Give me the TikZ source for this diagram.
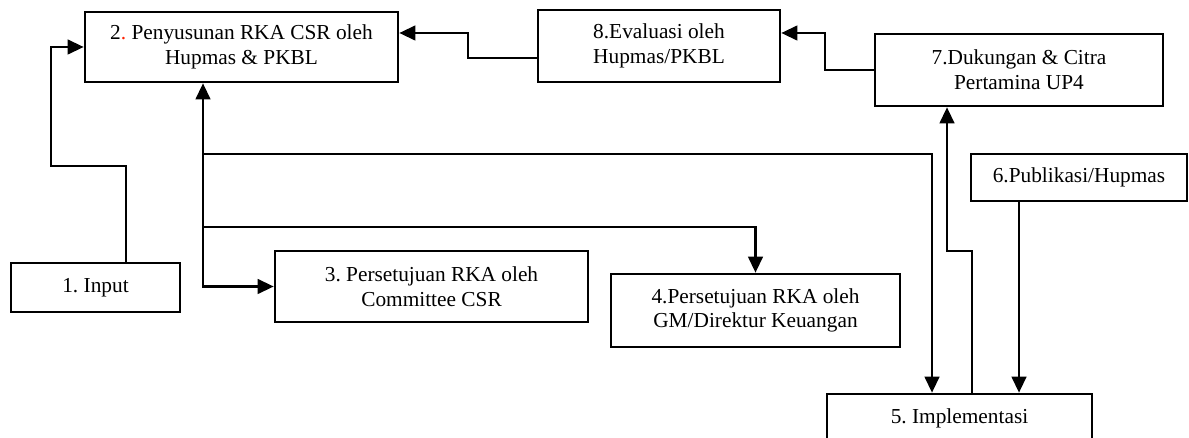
\documentclass[tikz,border=0pt]{standalone}
\usepackage{fontspec}
\setmainfont{Liberation Serif}
\usetikzlibrary{arrows.meta, calc}
\colorlet{dotRed}{red!75!orange}

\begin{document}
\begin{tikzpicture}[
  x=0.75pt, y=-0.75pt,
  font=\fontsize{16}{18.5}\selectfont\frenchspacing,
  >={Triangle[length=12pt, width=11pt]},
  flow/.style={->, line width=1.7pt},
  twoway/.style={<->, line width=1.7pt},
  box/.style={draw, line width=2pt, align=center, inner sep=0pt},
]
\useasboundingbox (0,0) rectangle (1189,438);

% ── process boxes ────────────────────────────────────────────────────────────
\node[box, minimum width=126.75pt, minimum height=36.75pt] (input) at (95.5,287.5)
  {1. Input};
\node[box, minimum width=234.75pt, minimum height=52.5pt] (susun) at (241.5,47)
  {2{\color{dotRed}.} Penyusunan RKA CSR oleh\\ Hupmas \& PKBL};
\node[box, minimum width=234.75pt, minimum height=53.25pt] (setuju) at (431.5,286.5)
  {3. Persetujuan RKA oleh\\ Committee CSR};
\node[box, minimum width=216.75pt, minimum height=54.75pt] (setujugm) at (755.5,310.5)
  {4.Persetujuan RKA oleh\\ GM/Direktur Keuangan};
\node[box, minimum width=198.75pt, minimum height=36pt] (impl) at (959.5,418)
  {5. Implementasi};
\node[box, minimum width=162pt, minimum height=35.25pt] (publik) at (1079,177.5)
  {6.Publikasi/Hupmas};
\node[box, minimum width=216pt, minimum height=54pt] (dukung) at (1019,70)
  {7.Dukungan \& Citra\\ Pertamina UP4};
\node[box, minimum width=181.5pt, minimum height=54pt] (eval) at (659,46)
  {8.Evaluasi oleh\\ Hupmas/PKBL};

% ── bend points ──────────────────────────────────────────────────────────────
\coordinate (trunk) at (203,0);
\coordinate (jA) at (203,154);
\coordinate (jB) at (203,227);
\coordinate (k1) at (51,166);
\coordinate (k7) at (825,33);
\coordinate (k8) at (468,33);
\coordinate (up7) at (947,251);
\coordinate (c6) at (1019,0);

% ── connectors ───────────────────────────────────────────────────────────────
\draw[flow] ($(input.north)+(30.5,0)$) |- (k1) |- (susun.west);
\draw[twoway] (susun.south -| trunk) |- (setuju.west);
\draw[flow] (jA) -| ($(impl.north)+(-27.5,0)$);
\draw[flow] (jB) -| (setujugm.north);
\draw[flow] (publik.south -| c6) -- (impl.north -| c6);
\draw[flow] ($(impl.north)+(12.5,0)$) |- (up7) -- (dukung.south -| up7);
\draw[flow] (dukung.west) -| (k7) -- (eval.east |- k7);
\draw[flow] ($(eval.west)+(0,12)$) -| (k8) -- (susun.east |- k8);

\end{tikzpicture}
\end{document}
